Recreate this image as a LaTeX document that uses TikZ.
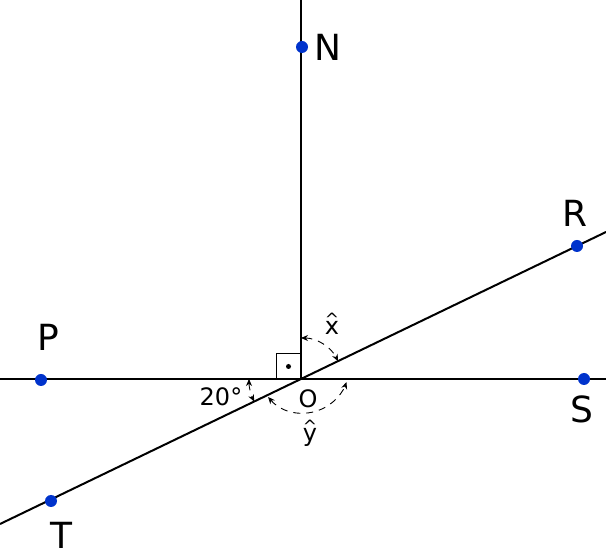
\documentclass[tikz,border=0pt]{standalone}
\usepackage{fontspec}
\setmainfont{DejaVu Sans}
\usetikzlibrary{arrows.meta}
\usetikzlibrary{calc}
\definecolor{dotblue}{HTML}{0033CC}
\newcommand{\hatted}[1]{\ooalign{\hfil\raisebox{9pt}{\fontsize{17}{17}\selectfont\textasciicircum}\hfil\cr #1\cr}}
\tikzset{pt/.style={circle,fill=dotblue,inner sep=0pt,minimum size=12pt},
big/.style={font=\fontsize{36}{40}\selectfont},
small/.style={font=\fontsize{24}{28}\selectfont},
hat/.style={font=\fontsize{24}{28}\selectfont,anchor=base,inner sep=0pt},
ang/.style={line width=0.9pt,dash pattern=on 7pt off 6pt,{Stealth[length=7pt,width=6pt]}-{Stealth[length=7pt,width=6pt]}}}
\begin{document}
\begin{tikzpicture}[x=1pt,y=1pt,line width=2pt]
\useasboundingbox (0,0) rectangle (606,560);
\coordinate (O) at (301,181);
\coordinate (top) at (301,560);
\coordinate (left) at (0,181);
\coordinate (right) at (606,181);
\coordinate (tl) at (0,36);
\coordinate (rr) at (606,328);
\draw (top) -- (O);
\draw (left) -- (right);
\draw (tl) -- (rr);
% right angle mark
\draw[line width=1pt] ($(O)+(0,25)$) -- ++(-25,0) -- ++(0,-25);
\node (c) at ($(O)+(-12.5,12.5)$) [circle,fill,inner sep=0pt,minimum size=5pt] {};
% points
\node (N) at (302,513) [pt] {};
\node (R) at (577,314) [pt] {};
\node (P) at (41,180) [pt] {};
\node (S) at (584,181) [pt] {};
\node (T) at (51,59) [pt] {};
\node (lN) at (328,513) [big] {N};
\node (lR) at (575,347) [big] {R};
\node (lP) at (48,223) [big] {P};
\node (lS) at (582,151) [big] {S};
\node (lT) at (61,25) [big] {T};
\node (lO) at (308,161) [small] {O};
\node (l20) at (221,163) [small] {20°};
\node (lx) at (332,225) [hat] {\hatted{x}};
\node (ly) at (310,118) [hat] {\hatted{y}};
% angle arcs
\draw[ang] ($(O)+(90:41)$) arc (90:25.7:41);
\draw[ang] ($(O)+(180:52)$) arc (180:205.7:52);
\coordinate (yc) at (303,193);
\draw[ang] ($(yc)+(220.6:46)$) arc (220.6:340.9:46);
\end{tikzpicture}
\end{document}
